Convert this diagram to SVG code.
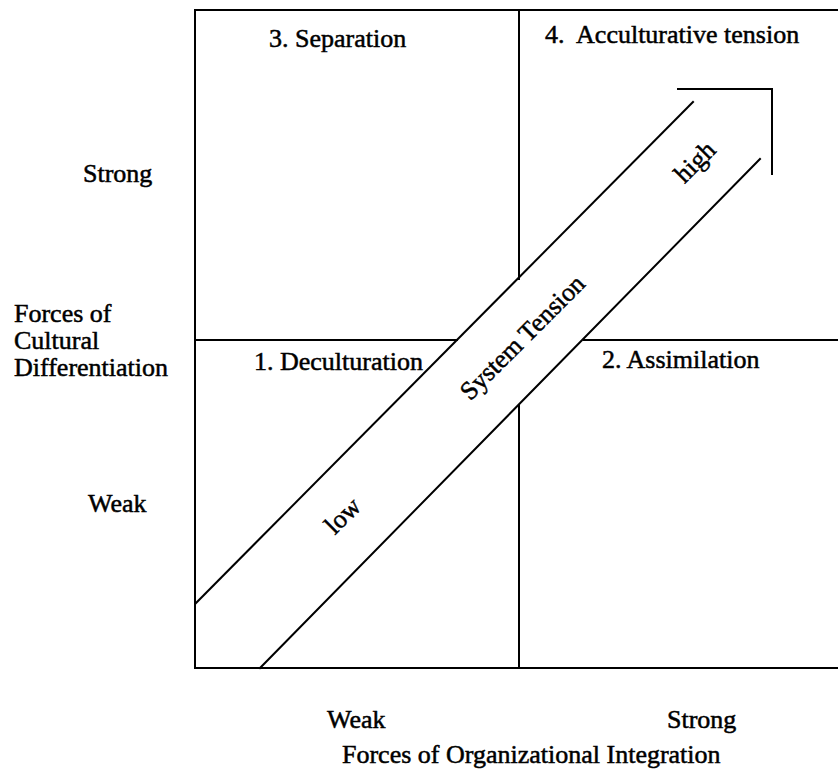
<svg xmlns="http://www.w3.org/2000/svg" width="838" height="778" viewBox="0 0 838 778">
<style>
  .ln { stroke: #000; stroke-width: 2; fill: none; stroke-linecap: square; }
  .tx { font-family: "Liberation Serif", "Times New Roman", serif; font-size: 26px; fill: #000; stroke: #000; stroke-width: 0.5; }
</style>
<rect x="0" y="0" width="838" height="778" fill="#fff"/>
<g id="grid">
  <line class="ln" x1="195" y1="10" x2="840" y2="10"/>
  <line class="ln" x1="195" y1="668" x2="840" y2="668"/>
  <line class="ln" x1="195" y1="10" x2="195" y2="668"/>
  <line class="ln" x1="519" y1="10" x2="519" y2="279"/>
  <line class="ln" x1="519" y1="406" x2="519" y2="668"/>
  <line class="ln" x1="195" y1="340" x2="457" y2="340"/>
  <line class="ln" x1="584" y1="340" x2="840" y2="340"/>
</g>
<g id="quadrants">
  <text id="q3" class="tx" x="269" y="47">3. Separation</text>
  <text id="q4" class="tx" x="545" y="43" xml:space="preserve">4.  Acculturative tension</text>
  <text id="q1" class="tx" x="254" y="370">1. Deculturation</text>
  <text id="q2" class="tx" x="602" y="368">2. Assimilation</text>
</g>
<g id="axis-y">
  <text class="tx" x="83" y="182">Strong</text>
  <text class="tx" x="14" y="322">Forces of</text>
  <text class="tx" x="14" y="349">Cultural</text>
  <text class="tx" x="14" y="376">Differentiation</text>
  <text class="tx" x="88" y="512">Weak</text>
</g>
<g id="axis-x">
  <text class="tx" x="327" y="728">Weak</text>
  <text class="tx" x="667" y="728">Strong</text>
  <text class="tx" x="342" y="763">Forces of Organizational Integration</text>
</g>
<g id="connectors">
  <g id="tension-arrow">
    <line class="ln" x1="196" y1="603" x2="693" y2="102"/>
    <line class="ln" x1="260" y1="668" x2="760" y2="159"/>
    <polyline class="ln" points="678,89 772,89 772,174"/>
    <text class="tx" text-anchor="middle" transform="translate(522,337) rotate(-45)" y="9">System Tension</text>
    <text class="tx" text-anchor="middle" transform="translate(696,163) rotate(-45)" y="7">high</text>
    <text class="tx" text-anchor="middle" transform="translate(343,516) rotate(-45)" y="8">low</text>
  </g>
</g>
</svg>
